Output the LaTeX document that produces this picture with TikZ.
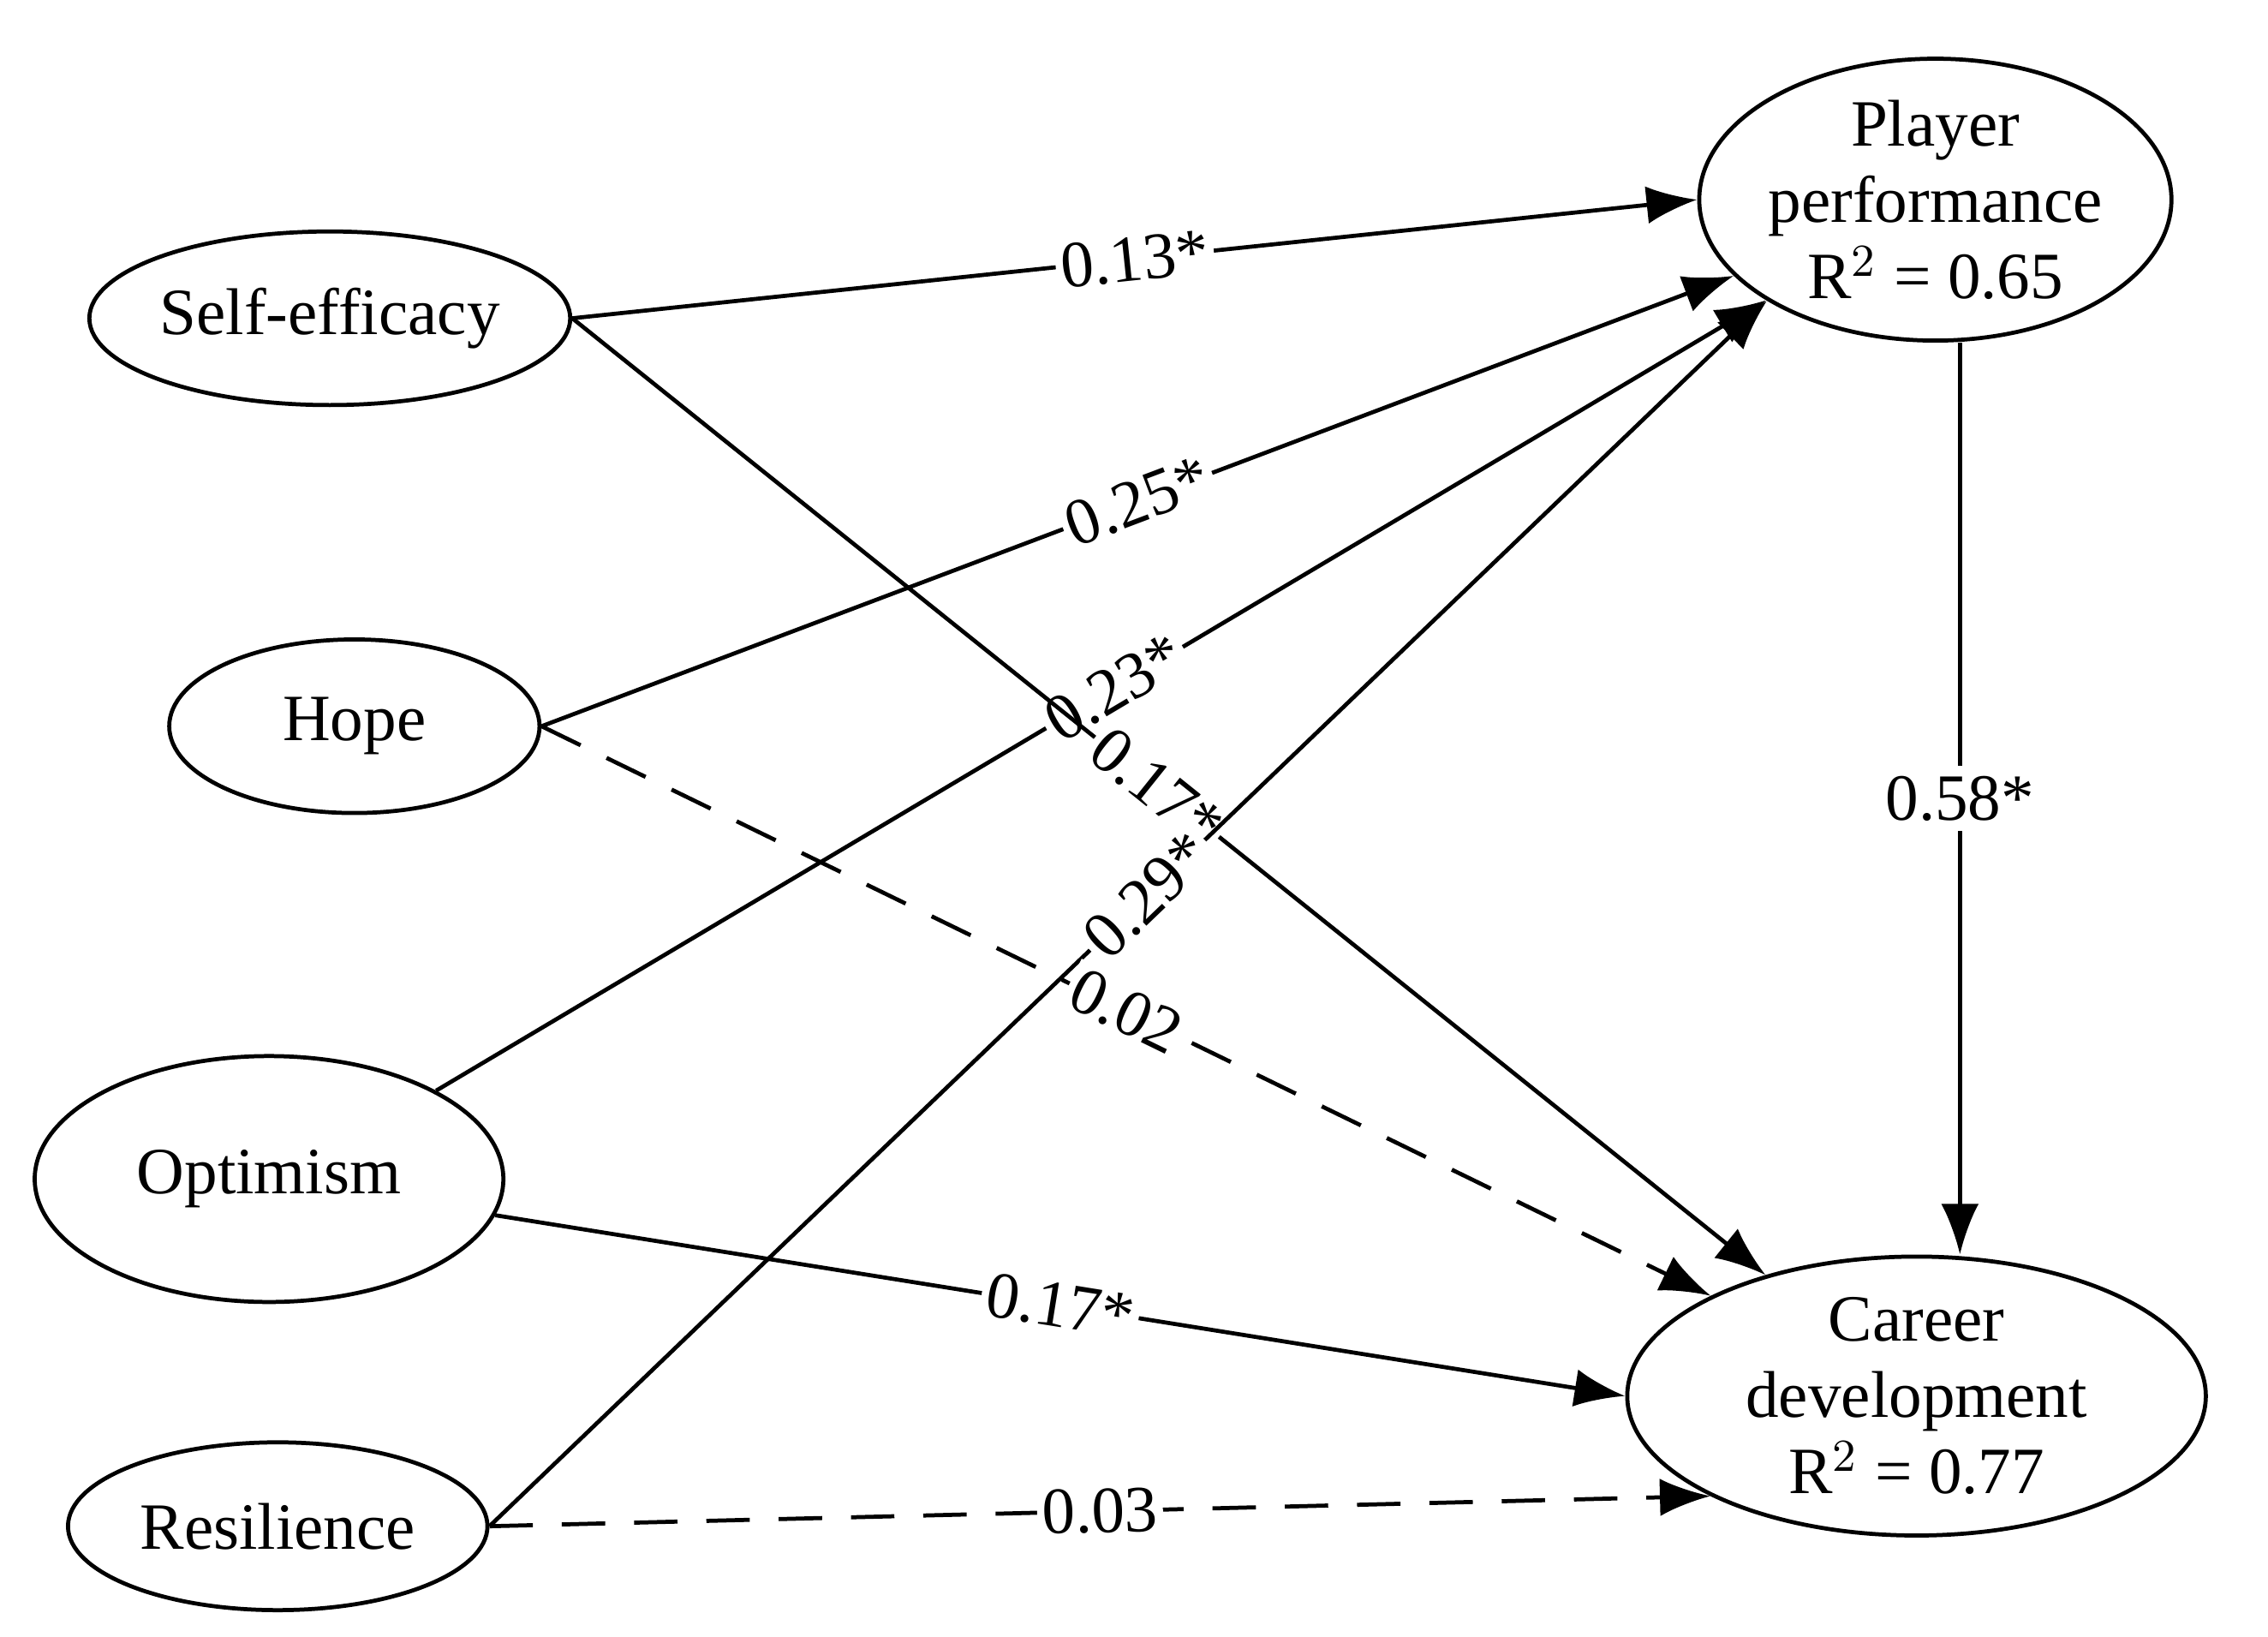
\documentclass[tikz,border=0pt]{standalone}
\usepackage{fontspec}
\setmainfont{Liberation Serif}
\usetikzlibrary{arrows.meta,positioning,shapes.geometric}

\begin{document}
\begin{tikzpicture}[
  latent/.style={ellipse, draw, thick, align=center, inner sep=0pt,
    font=\fontsize{13}{15}\selectfont},
  path/.style={-{Latex[length=3.5mm,width=2.6mm]}, thick},
  weak/.style={path, dashed, dash pattern=on 3mm off 2mm},
  coef/.style={sloped, fill=white, inner sep=1pt, font=\fontsize{13}{15}\selectfont}
]
  \useasboundingbox (0,0) rectangle (15.68,-11.31);
  \node[latent, minimum width=2.9cm, minimum height=1.2cm] (self) at (2.28,-2.20) {Self-efficacy};
  \node[latent, minimum width=2.56cm, minimum height=1.2cm] (hope) at (2.45,-5.02) {Hope};
  \node[latent, minimum width=3.24cm, minimum height=1.7cm] (optim) at (1.86,-8.15) {Optimism};
  \node[latent, minimum width=2.9cm, minimum height=1.16cm] (resil) at (1.92,-10.55) {Resilience};
  \node[latent, minimum width=3.1cm, minimum height=1.8cm] (perf) at (13.38,-1.38) {Player\\performance\\R$^2$ = 0.65};
  \node[latent, minimum width=4.0cm, minimum height=1.8cm] (career) at (13.25,-9.65) {Career\\development\\R$^2$ = 0.77};

  \draw[path] (self.east) -- node[coef, pos=0.5] {0.13*} (perf.west);
  \draw[path] (hope.east) -- node[coef, pos=0.5] {0.25*} (perf);
  \draw[path] (optim.north east) -- node[coef, pos=0.51] {0.23*} (perf);
  \draw[path] (self.east) -- node[coef, pos=0.49] {0.17*} (career);
  \draw[path] (resil.east) -- node[coef, pos=0.515] {0.29*} (perf.south west);
  \draw[weak] (hope.east) -- node[coef, pos=0.5] {0.02} (career);
  \draw[path] (optim) -- node[coef, pos=0.5] {0.17*} (career.west);
  \draw[weak] (resil.east) -- node[coef, pos=0.5] {0.03} (career.south west);
  \draw[path] (perf.south) ++(0.17,0) coordinate (ps) (ps) -- node[fill=white, inner sep=2pt, font=\fontsize{13}{15}\selectfont] {0.58*} (ps |- career.north);
\end{tikzpicture}
\end{document}
